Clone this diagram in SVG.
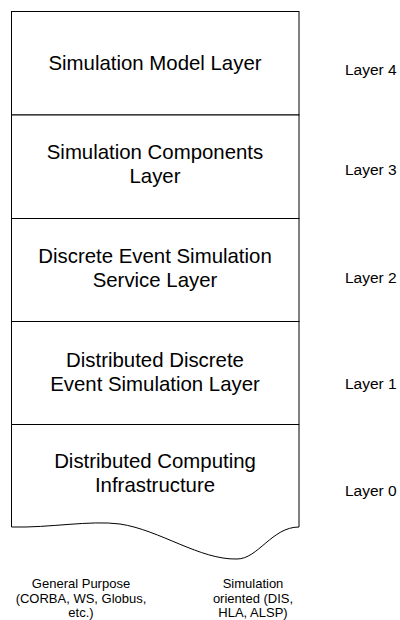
<svg xmlns="http://www.w3.org/2000/svg" width="400" height="620" viewBox="0 0 400 620">
<style>
.box{fill:#fff;stroke:#000;stroke-width:1}
.main{font-family:"Liberation Sans",Arial,sans-serif;font-size:20.4px;fill:#000;text-anchor:middle}
.lbl{font-family:"Liberation Sans",Arial,sans-serif;font-size:15.5px;fill:#000}
.note{font-family:"Liberation Sans",Arial,sans-serif;font-size:13px;fill:#000;text-anchor:middle}
</style>
<rect width="400" height="620" fill="#fff"/>
<g id="layer4">
<rect class="box" x="11.5" y="11.5" width="287.5" height="103.5"/>
<text class="main" x="155" y="70">Simulation Model Layer</text>
<text class="lbl" x="345" y="75">Layer 4</text>
</g>
<g id="layer3">
<rect class="box" x="11.5" y="115" width="287.5" height="103.5"/>
<text class="main" x="155" y="159">Simulation Components</text>
<text class="main" x="155" y="183">Layer</text>
<text class="lbl" x="345" y="175">Layer 3</text>
</g>
<g id="layer2">
<rect class="box" x="11.5" y="218.5" width="287.5" height="103"/>
<text class="main" x="155" y="263">Discrete Event Simulation</text>
<text class="main" x="155" y="287">Service Layer</text>
<text class="lbl" x="345" y="283">Layer 2</text>
</g>
<g id="layer1">
<rect class="box" x="11.5" y="321.5" width="287.5" height="103"/>
<text class="main" x="155" y="367">Distributed Discrete</text>
<text class="main" x="155" y="391">Event Simulation Layer</text>
<text class="lbl" x="345" y="389">Layer 1</text>
</g>
<g id="layer0">
<path class="box" d="M11.5,424.5 H299 V527 C272,527 258,559 237,559 C200,560 160,530 120,524 C90,520 50,528 11.5,527 Z"/>
<text class="main" x="155" y="468">Distributed Computing</text>
<text class="main" x="155" y="492">Infrastructure</text>
<text class="lbl" x="345" y="496">Layer 0</text>
</g>
<g id="general-purpose">
<text class="note" x="81" y="587.5">General Purpose</text>
<text class="note" x="81" y="602.5">(CORBA, WS, Globus,</text>
<text class="note" x="81" y="617">etc.)</text>
</g>
<g id="simulation-oriented">
<text class="note" x="253" y="587.5">Simulation</text>
<text class="note" x="253" y="602.5">oriented (DIS,</text>
<text class="note" x="253" y="617">HLA, ALSP)</text>
</g>
</svg>
